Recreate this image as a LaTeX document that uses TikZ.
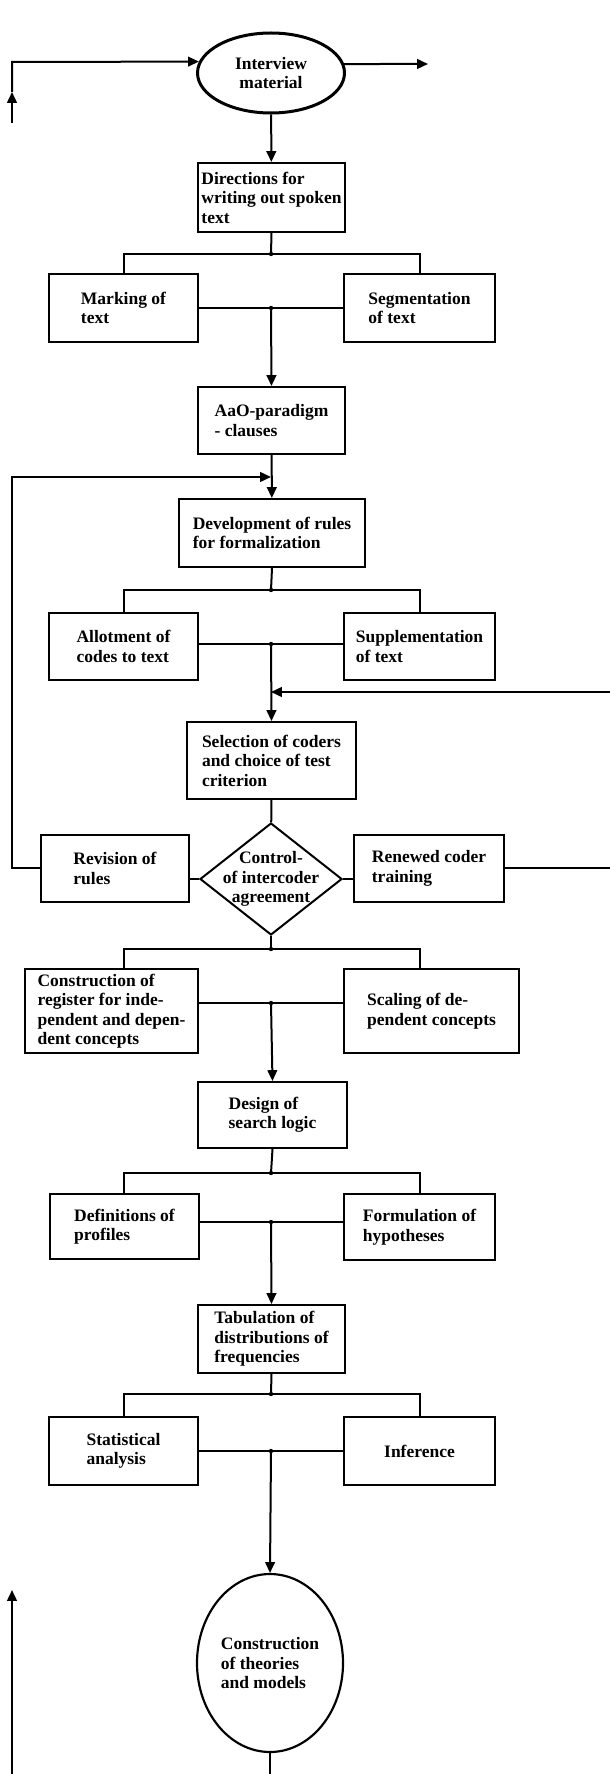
\documentclass[tikz,border=0pt]{standalone}
\usepackage{fontspec}
\setmainfont{Liberation Serif}
\usetikzlibrary{arrows.meta, shapes.geometric}
\tikzset{
  every picture/.style={line width=1.2pt},
  txt/.style={font=\bfseries\fontsize{10.5}{11.7}\selectfont},
  box/.style={draw, txt, line width=1.2pt, align=left, inner sep=1pt},
  blob/.style={draw, ellipse, txt, line width=#1, inner sep=0pt, align=center},
  sz/.style 2 args={minimum width=#1*0.6pt, minimum height=#2*0.6pt},
  arr/.style={-{Triangle[length=6.5pt, width=5.8pt]}},
}

\begin{document}
\begin{tikzpicture}[x=0.6pt, y=-0.6pt]
  \useasboundingbox (0,0) rectangle (610,1774);
  % steps
  \node[blob=1.8pt, sz={147}{80}] (intv) at (271,73) {Interview\\material};
  \node[box, sz={147}{69}] (dirs) at (271.5,197.5) {Directions for\\writing out spoken\\text};
  \node[box, sz={149}{68}] (mark) at (123.5,308) {Marking of\\text};
  \node[box, sz={151}{68}] (segm) at (419.5,308) {Segmentation\\of text};
  \node[box, sz={147}{67}] (aao) at (271.5,420.5) {AaO-paradigm\\- clauses};
  \node[box, sz={186}{68}] (devel) at (272,533) {Development of rules\\for formalization};
  \node[box, sz={149}{67}] (allot) at (123.5,646.5) {Allotment of\\codes to text};
  \node[box, sz={151}{67}] (suppl) at (419.5,646.5) {Supplementation\\of text};
  \node[box, sz={169}{77}] (select) at (271.5,760.5) {Selection of coders\\and choice of test\\criterion};
  \node[draw, diamond, sz={142}{112}, inner sep=0pt] (ctrl) at (271,879) {};
  \node[txt, align=center] (ctrltxt) at (ctrl.center) {Control-\\of intercoder\\agreement};
  \node[box, sz={148}{67}] (revis) at (115,868.5) {Revision of\\rules};
  \node[box, sz={150}{67}] (renew) at (429,868.5) {Renewed coder\\training};
  \node[box, sz={173}{84}] (regist) at (111.5,1011) {Construction of\\register for inde-\\pendent and depen-\\dent concepts};
  \node[box, sz={175}{84}] (scal) at (431.5,1011) {Scaling of de-\\pendent concepts};
  \node[box, sz={149}{66}] (design) at (272.5,1115) {Design of\\search logic};
  \node[box, sz={149}{65}] (defin) at (124.5,1226.5) {Definitions of\\profiles};
  \node[box, sz={151}{66}] (formul) at (419.5,1227) {Formulation of\\hypotheses};
  \node[box, sz={147}{68}] (tabul) at (271.5,1339) {Tabulation of\\distributions of\\frequencies};
  \node[box, sz={149}{68}] (stat) at (123.5,1451) {Statistical\\analysis};
  \node[box, sz={151}{68}] (infer) at (419.5,1451) {Inference};
  \node[blob=1.3pt, sz={146}{178}, align=left] (theory) at (270,1663) {Construction\\of theories\\and models};

  % free ends and corners
  \coordinate (colL) at (124,0);
  \coordinate (colR) at (420,0);
  \coordinate (inA) at (12,123);
  \coordinate (inB) at (12,92);
  \coordinate (inC) at (12,62);
  \coordinate (outR) at (428,64);
  \coordinate (lft) at (12,477);
  \coordinate (jA) at (271,477);
  \coordinate (rtA) at (610,868);
  \coordinate (rtB) at (610,692);
  \coordinate (jB) at (271,692);
  \coordinate (bot) at (270,1774);
  \coordinate (lbA) at (12,1774);
  \coordinate (lbB) at (12,1590);

  % in and out of the top
  \draw[arr] (inA) -- (inB);
  \draw[arr] (inB) -- (inC) -- (intv.171);
  \draw[arr] (intv.7) -- (outR);
  \draw[arr] (intv) -- (dirs);

  % forks and joins
  \foreach \p/\fy/\l/\r/\my/\n in {dirs/254/mark/segm/308/aao, devel/590/allot/suppl/644/select,
      ctrl/949/regist/scal/1003/design, design/1173/defin/formul/1222/tabul, tabul/1394/stat/infer/1451/theory} {
    \coordinate (f) at (271,\fy);
    \coordinate (m) at (271,\my);
    \draw (\p.south) -- (f);
    \draw (\l.north -| colL) |- (f) -| (\r.north -| colR);
    \draw (m -| \l.east) -- (m -| \r.west);
    \draw[arr] (m) -- (\n.north);
    \fill (f) circle (1.3pt) (m) circle (1.3pt);
  }

  % control loop
  \draw[arr] (aao) -- (devel);
  \draw (select) -- (ctrl);
  \draw (ctrl.west) -- (ctrl.west -| revis.east);
  \draw (ctrl.east) -- (ctrl.east -| renew.west);
  \draw[arr] (revis.west |- rtA) -| (lft) -- (jA);
  \draw (renew.east |- rtA) -- (rtA);
  \draw[arr] (rtB) -- (jB);

  % bottom
  \draw (theory) -- (bot);
  \draw[arr] (lbA) -- (lbB);
\end{tikzpicture}
\end{document}
